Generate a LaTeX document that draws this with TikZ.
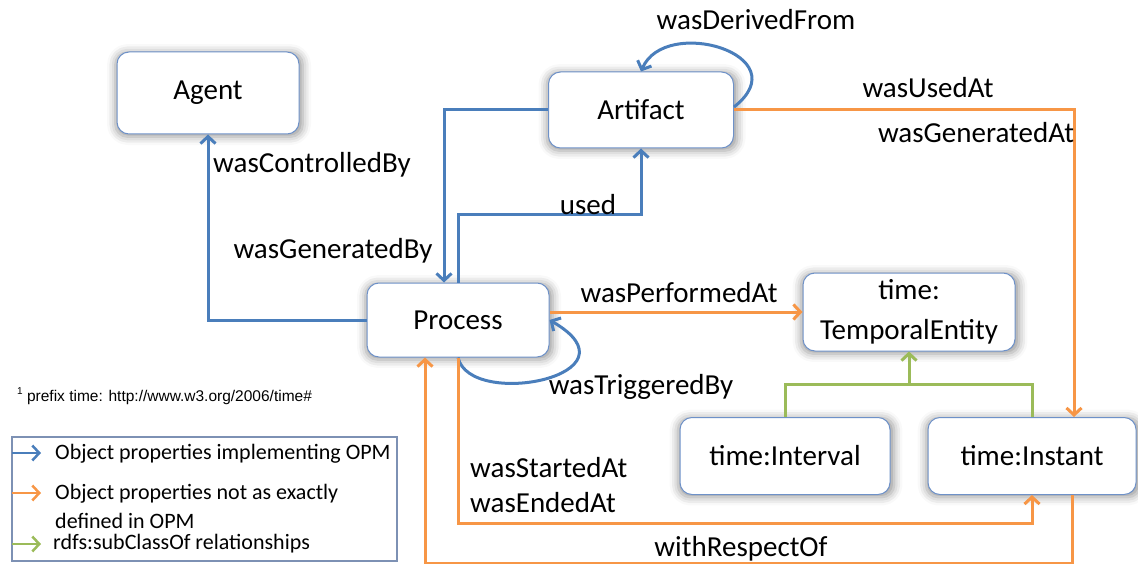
\documentclass[tikz,border=0pt]{standalone}
\usepackage{fontspec}
\setmainfont{Carlito}
\newfontfamily\notefont{Liberation Sans}
\usetikzlibrary{arrows.meta,shadows.blur}

\definecolor{opmblue}{RGB}{74,126,187}
\definecolor{opmorange}{RGB}{247,150,70}
\definecolor{opmgreen}{RGB}{155,187,89}
\definecolor{boxline}{RGB}{110,145,200}
\definecolor{legendline}{RGB}{125,145,180}

\tikzset{
  cls/.style={draw=boxline, line width=1pt, fill=white, rounded corners=12pt,
    font=\fontsize{29}{40}\selectfont, align=center, inner sep=0pt,
    blur shadow={shadow xshift=1pt, shadow yshift=-1.5pt, shadow scale=1.03,
      shadow blur radius=8pt, shadow blur extra rounding=4pt,
      shadow opacity=40}},
  lbl/.style={font=\fontsize{29}{34}\selectfont, inner sep=0pt},
  legtext/.style={font=\fontsize{22}{28}\selectfont, inner sep=0pt, anchor=west},
  tip/.style={-{Straight Barb[length=7pt,width=15pt]}},
  blueline/.style={draw=opmblue, line width=3pt},
  orangeline/.style={draw=opmorange, line width=3pt},
  greenline/.style={draw=opmgreen, line width=3pt},
}

\begin{document}
\begin{tikzpicture}[x=1pt, y=-1pt]
\useasboundingbox (0,0) rectangle (1138,564);

% classes
\node[cls, minimum width=182pt, minimum height=82pt] (agent)    at (208,93)  {Agent};
\node[cls, minimum width=185pt, minimum height=76pt] (artifact) at (641,110) {Artifact};
\node[cls, minimum width=182pt, minimum height=74pt] (process)  at (458,320) {Process};
\node[cls, minimum width=212pt, minimum height=78pt] (temporal) at (909,312) {time:\\TemporalEntity};
\node[cls, minimum width=210pt, minimum height=77pt] (interval) at (785,456) {time:Interval};
\node[cls, minimum width=208pt, minimum height=77pt] (instant)  at (1032,456) {time:Instant};

% OPM object properties
\draw[blueline, tip] (process.west) -| (agent.south);
\draw[blueline, tip] (artifact.west) -| ([xshift=-14pt]process.north);
\draw[blueline, tip] (process.north) |- ([yshift=-66pt]artifact.south) -- (artifact.south);
\draw[blueline, tip] ([yshift=3pt]artifact.east) .. controls (800,55) and (665,15) .. (artifact.north);
\draw[blueline, tip] (process.south) .. controls (470,410) and (645,375) .. (process.east);

% time properties
\draw[orangeline, tip] (artifact.east) -| ([xshift=42pt]instant.north);
\draw[orangeline, tip] (process.east |- temporal.west) -- (temporal.west);
\draw[orangeline, tip] (process.south) |- ([yshift=-28pt]instant.south) -- (instant.south);
\draw[orangeline, tip] ([xshift=40pt]instant.south) -- ([xshift=40pt,yshift=-68pt]instant.south)
  -| ([xshift=-33pt]process.south);

% subclass relations
\coordinate (join) at ([yshift=-33pt]temporal.south);
\draw[greenline] (interval.north) |- (join) -| (instant.north);
\draw[greenline, tip] (join) -- (temporal.south);

% property labels
\node[lbl] (l1) at (756,20)  {wasDerivedFrom};
\node[lbl] (l2) at (312,165) {wasControlledBy};
\node[lbl] (l3) at (333,251) {wasGeneratedBy};
\node[lbl] (l4) at (588,205) {used};
\node[lbl] (l5) at (928,88)  {wasUsedAt};
\node[lbl] (l6) at (976,133) {wasGeneratedAt};
\node[lbl] (l7) at (679,293) {wasPerformedAt};
\node[lbl] (l8) at (641,387) {wasTriggeredBy};
\node[lbl, anchor=west] (l9)  at (470,468) {wasStartedAt};
\node[lbl, anchor=west] (l10) at (470,503) {wasEndedAt};
\node[lbl] (l11) at (741,549) {withRespectOf};

% footnote
\node[font=\notefont\fontsize{15.5}{18}\selectfont, anchor=west, inner sep=0pt] (note) at (17,396)
  {\raisebox{0.45em}{\fontsize{10}{12}\selectfont 1} prefix time: http://www.w3.org/2006/time\#};

% legend
\draw[draw=legendline, line width=1.5pt] (12,437) rectangle (397,561);
\draw[blueline, tip, line width=2.5pt] (12,453) -- (41,453);
\draw[orangeline, tip, line width=2.5pt] (12,493) -- (41,493);
\draw[greenline, tip, line width=2.5pt] (12,544) -- (41,544);
\node[legtext] (t1) at (55,454) {Object properties implementing OPM};
\node[legtext] (t2) at (55,494) {Object properties not as exactly};
\node[legtext] (t3) at (55,521) {defined in OPM};
\node[legtext] (t4) at (53,544) {rdfs:subClassOf relationships};
\end{tikzpicture}
\end{document}
